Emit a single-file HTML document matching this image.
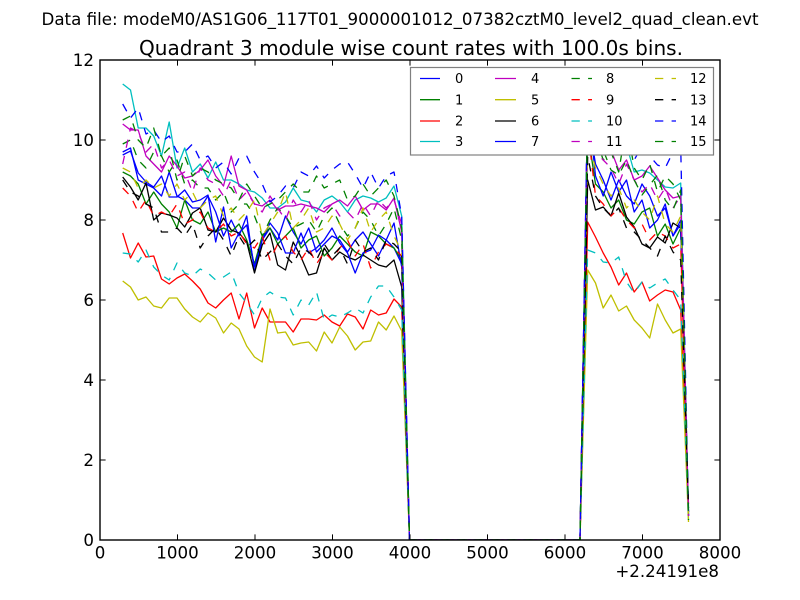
<!DOCTYPE html>
<html><head><meta charset="utf-8"><style>
html,body{margin:0;padding:0;background:#fff;}
svg{display:block;}
text{font-family:"DejaVu Sans","Liberation Sans",sans-serif;fill:#000;}
</style></head><body>
<svg width="800" height="600" viewBox="0 0 800 600" xmlns="http://www.w3.org/2000/svg">
<rect x="0" y="0" width="800" height="600" fill="#fff"/>
<text x="400" y="25" font-size="16.67" text-anchor="middle" textLength="717" lengthAdjust="spacingAndGlyphs">Data file: modeM0/AS1G06_117T01_9000001012_07382cztM0_level2_quad_clean.evt</text>
<text x="411" y="55" font-size="20" text-anchor="middle" textLength="544" lengthAdjust="spacingAndGlyphs">Quadrant 3 module wise count rates with 100.0s bins.</text>
<defs><clipPath id="ax"><rect x="100" y="60" width="620" height="480"/></clipPath></defs>
<g clip-path="url(#ax)" fill="none" stroke-width="1.3" stroke-linejoin="round">
<polyline stroke="#0000ff" points="122.7,152 130.5,148 138.2,180 146,184 153.7,188 161.5,196 169.2,172 177,196 184.7,200 192.5,208 200.2,208 208,196 215.7,212 223.5,236 231.2,220 239,236 246.7,216 254.5,272 262.2,240 270,228 277.7,240 285.5,216 293.2,232 301,244 308.7,228 316.5,252 324.2,244 332,236 339.7,240 347.5,252 355.2,240 363,232 370.7,244 378.5,256 386.2,240 394,248 401.7,264 409.5,540 580,540 587.7,116 595.5,164 603.2,180 611,200 618.7,180 626.5,196 634.2,204 642,184 649.7,196 657.5,216 665.2,208 673,236 680.7,220 688.5,516"/>
<polyline stroke="#008000" points="122.7,172 130.5,176 138.2,184 146,204 153.7,192 161.5,204 169.2,212 177,228 184.7,200 192.5,220 200.2,224 208,212 215.7,232 223.5,228 231.2,232 239,224 246.7,240 254.5,264 262.2,236 270,228 277.7,244 285.5,236 293.2,228 301,248 308.7,240 316.5,236 324.2,256 332,248 339.7,236 347.5,244 355.2,252 363,256 370.7,232 378.5,236 386.2,244 394,248 401.7,260 409.5,540 580,540 587.7,132 595.5,184 603.2,192 611,208 618.7,200 626.5,220 634.2,224 642,212 649.7,208 657.5,236 665.2,224 673,244 680.7,228 688.5,508"/>
<polyline stroke="#ff0000" points="122.7,233 130.5,258 138.2,243 146,257 153.7,256 161.5,279 169.2,284 177,278 184.7,274 192.5,281 200.2,289 208,303 215.7,308 223.5,300 231.2,293 239,319 246.7,293 254.5,328 262.2,308 270,322 277.7,322 285.5,322 293.2,332 301,319 308.7,319 316.5,320 324.2,315 332,322 339.7,326 347.5,314 355.2,317 363,329 370.7,310 378.5,315 386.2,313 394,299 401.7,307 409.5,540 580,540 587.7,222 595.5,237 603.2,253 611,267 618.7,285 626.5,273 634.2,292 642,282 649.7,301 657.5,295 665.2,290 673,292 680.7,310 688.5,504"/>
<polyline stroke="#00bfbf" points="122.7,84 130.5,90 138.2,128 146,128 153.7,136 161.5,156 169.2,122 177,168 184.7,148 192.5,172 200.2,164 208,178 215.7,162 223.5,180 231.2,180 239,184 246.7,190 254.5,192 262.2,198 270,208 277.7,208 285.5,202 293.2,188 301,200 308.7,202 316.5,212 324.2,200 332,196 339.7,202 347.5,212 355.2,200 363,196 370.7,198 378.5,202 386.2,198 394,186 401.7,216 409.5,540 580,540 587.7,102 595.5,123 603.2,125 611,130 618.7,147 626.5,145 634.2,172 642,170 649.7,173 657.5,180 665.2,187 673,188 680.7,183 688.5,520"/>
<polyline stroke="#bf00bf" points="122.7,124 130.5,130 138.2,130 146,156 153.7,164 161.5,172 169.2,156 177,166 184.7,178 192.5,176 200.2,170 208,160 215.7,176 223.5,186 231.2,156 239,186 246.7,190 254.5,204 262.2,206 270,200 277.7,210 285.5,206 293.2,206 301,204 308.7,206 316.5,208 324.2,212 332,204 339.7,200 347.5,206 355.2,196 363,210 370.7,204 378.5,204 386.2,210 394,198 401.7,232 409.5,540 580,540 587.7,110 595.5,130 603.2,155 611,150 618.7,170 626.5,160 634.2,180 642,176 649.7,166 657.5,178 665.2,190 673,198 680.7,196 688.5,516"/>
<polyline stroke="#bfbf00" points="122.7,281 130.5,287 138.2,300 146,297 153.7,306 161.5,308 169.2,298 177,298 184.7,309 192.5,317 200.2,322 208,313 215.7,318 223.5,333 231.2,323 239,329 246.7,346 254.5,357 262.2,362 270,309 277.7,333 285.5,332 293.2,345 301,343 308.7,342 316.5,351 324.2,332 332,343 339.7,327 347.5,336 355.2,350 363,342 370.7,341 378.5,322 386.2,330 394,316 401.7,331 409.5,540 580,540 587.7,270 595.5,283 603.2,308 611,295 618.7,311 626.5,306 634.2,320 642,328 649.7,338 657.5,304 665.2,320 673,333 680.7,329 688.5,522"/>
<polyline stroke="#000000" points="122.7,177 130.5,187 138.2,200 146,183 153.7,220 161.5,213 169.2,215 177,218 184.7,227 192.5,213 200.2,208 208,230 215.7,232 223.5,218 231.2,230 239,233 246.7,242 254.5,273 262.2,245 270,233 277.7,265 285.5,270 293.2,242 301,257 308.7,275 316.5,273 324.2,248 332,260 339.7,252 347.5,257 355.2,260 363,255 370.7,260 378.5,265 386.2,267 394,260 401.7,287 409.5,540 580,540 587.7,180 595.5,210 603.2,207 611,216 618.7,193 626.5,217 634.2,227 642,244 649.7,248 657.5,237 665.2,243 673,223 680.7,228 688.5,512"/>
<polyline stroke="#0000ff" points="122.7,155 130.5,151 138.2,173 146,182 153.7,187 161.5,176 169.2,197 177,197 184.7,190 192.5,202 200.2,200 208,195 215.7,242 223.5,207 231.2,248 239,233 246.7,225 254.5,267 262.2,240 270,223 277.7,233 285.5,253 293.2,253 301,233 308.7,253 316.5,248 324.2,240 332,228 339.7,243 347.5,253 355.2,273 363,253 370.7,250 378.5,235 386.2,240 394,223 401.7,267 409.5,540 580,540 587.7,100 595.5,176 603.2,196 611,172 618.7,192 626.5,180 634.2,212 642,200 649.7,228 657.5,220 665.2,204 673,236 680.7,224 688.5,512"/>
<g stroke-dasharray="8.3,8.3">
<polyline stroke="#008000" points="122.7,144 130.5,140 138.2,160 146,168 153.7,152 161.5,156 169.2,172 177,160 184.7,184 192.5,180 200.2,188 208,188 215.7,200 223.5,192 231.2,212 239,204 246.7,204 254.5,216 262.2,236 270,220 277.7,208 285.5,216 293.2,228 301,224 308.7,220 316.5,232 324.2,216 332,208 339.7,224 347.5,236 355.2,228 363,212 370.7,220 378.5,236 386.2,224 394,208 401.7,240 409.5,540 580,540 587.7,108 595.5,136 603.2,160 611,152 618.7,172 626.5,124 634.2,168 642,180 649.7,164 657.5,192 665.2,176 673,184 680.7,200 688.5,516"/>
<polyline stroke="#ff0000" points="122.7,188 130.5,196 138.2,212 146,200 153.7,216 161.5,212 169.2,216 177,204 184.7,224 192.5,220 200.2,212 208,228 215.7,232 223.5,224 231.2,236 239,232 246.7,244 254.5,248 262.2,236 270,260 277.7,244 285.5,236 293.2,252 301,260 308.7,248 316.5,264 324.2,252 332,260 339.7,248 347.5,240 355.2,256 363,244 370.7,268 378.5,252 386.2,244 394,248 401.7,256 409.5,540 580,540 587.7,128 595.5,196 603.2,204 611,216 618.7,208 626.5,220 634.2,228 642,224 649.7,240 657.5,232 665.2,236 673,248 680.7,244 688.5,512"/>
<polyline stroke="#00bfbf" points="122.7,253 130.5,254 138.2,262 146,250 153.7,267 161.5,275 169.2,280 177,263 184.7,273 192.5,276 200.2,269 208,273 215.7,280 223.5,277 231.2,272 239,293 246.7,303 254.5,315 262.2,298 270,292 277.7,297 285.5,298 293.2,315 301,300 308.7,305 316.5,292 324.2,320 332,315 339.7,317 347.5,313 355.2,308 363,313 370.7,297 378.5,286 386.2,286 394,297 401.7,310 409.5,540 580,540 587.7,250 595.5,253 603.2,262 611,263 618.7,257 626.5,282 634.2,293 642,282 649.7,288 657.5,283 665.2,279 673,290 680.7,300 688.5,520"/>
<polyline stroke="#bf00bf" points="122.7,164 130.5,128 138.2,132 146,152 153.7,144 161.5,168 169.2,160 177,176 184.7,172 192.5,192 200.2,168 208,180 215.7,184 223.5,196 231.2,180 239,200 246.7,192 254.5,204 262.2,212 270,196 277.7,208 285.5,220 293.2,200 301,212 308.7,200 316.5,220 324.2,208 332,204 339.7,216 347.5,212 355.2,220 363,204 370.7,216 378.5,200 386.2,208 394,200 401.7,224 409.5,540 580,540 587.7,92 595.5,152 603.2,160 611,168 618.7,184 626.5,164 634.2,180 642,192 649.7,184 657.5,200 665.2,188 673,208 680.7,196 688.5,516"/>
<polyline stroke="#bfbf00" points="122.7,168 130.5,172 138.2,188 146,180 153.7,188 161.5,184 169.2,196 177,184 184.7,200 192.5,192 200.2,208 208,200 215.7,196 223.5,216 231.2,208 239,220 246.7,212 254.5,200 262.2,236 270,224 277.7,212 285.5,192 293.2,228 301,220 308.7,208 316.5,232 324.2,228 332,216 339.7,224 347.5,240 355.2,228 363,208 370.7,232 378.5,220 386.2,212 394,236 401.7,252 409.5,540 580,540 587.7,140 595.5,168 603.2,184 611,196 618.7,188 626.5,208 634.2,200 642,212 649.7,220 657.5,196 665.2,224 673,232 680.7,216 688.5,520"/>
<polyline stroke="#000000" points="122.7,180 130.5,192 138.2,196 146,204 153.7,208 161.5,232 169.2,232 177,228 184.7,236 192.5,224 200.2,248 208,236 215.7,228 223.5,240 231.2,256 239,236 246.7,248 254.5,240 262.2,260 270,252 277.7,244 285.5,256 293.2,264 301,248 308.7,252 316.5,260 324.2,244 332,256 339.7,248 347.5,264 355.2,240 363,252 370.7,248 378.5,260 386.2,240 394,244 401.7,252 409.5,540 580,540 587.7,156 595.5,196 603.2,208 611,216 618.7,208 626.5,228 634.2,232 642,240 649.7,248 657.5,256 665.2,236 673,252 680.7,260 688.5,508"/>
<polyline stroke="#0000ff" points="122.7,104 130.5,118 138.2,108 146,134 153.7,130 161.5,142 169.2,136 177,152 184.7,152 192.5,144 200.2,160 208,156 215.7,168 223.5,162 231.2,174 239,158 246.7,156 254.5,172 262.2,184 270,202 277.7,196 285.5,186 293.2,188 301,172 308.7,176 316.5,166 324.2,178 332,170 339.7,164 347.5,162 355.2,174 363,188 370.7,172 378.5,188 386.2,176 394,172 401.7,216 409.5,540 580,540 587.7,96 595.5,130 603.2,140 611,146 618.7,142 626.5,150 634.2,160 642,146 649.7,156 657.5,165 665.2,168 673,152 680.7,146 688.5,516"/>
<polyline stroke="#008000" points="122.7,120 130.5,116 138.2,140 146,148 153.7,128 161.5,156 169.2,148 177,180 184.7,156 192.5,176 200.2,168 208,172 215.7,180 223.5,184 231.2,188 239,200 246.7,184 254.5,196 262.2,208 270,204 277.7,200 285.5,192 293.2,184 301,192 308.7,192 316.5,176 324.2,188 332,184 339.7,180 347.5,200 355.2,196 363,184 370.7,196 378.5,188 386.2,180 394,196 401.7,228 409.5,540 580,540 587.7,110 595.5,140 603.2,150 611,170 618.7,175 626.5,160 634.2,180 642,195 649.7,185 657.5,175 665.2,200 673,210 680.7,190 688.5,520"/>
</g>
</g>
<!-- axes frame -->
<rect x="100" y="60" width="620" height="480" fill="none" stroke="#000" stroke-width="1.4"/>
<g stroke="#000" stroke-width="1">
<!-- x ticks bottom/top -->
<path d="M177.5,540V534.4M255,540V534.4M332.5,540V534.4M410,540V534.4M487.5,540V534.4M565,540V534.4M642.5,540V534.4"/>
<path d="M177.5,60V65.6M255,60V65.6M332.5,60V65.6M410,60V65.6M487.5,60V65.6M565,60V65.6M642.5,60V65.6"/>
<!-- y ticks left/right -->
<path d="M100,460H105.6M100,380H105.6M100,300H105.6M100,220H105.6M100,140H105.6"/>
<path d="M720,460H714.4M720,380H714.4M720,300H714.4M720,220H714.4M720,140H714.4"/>
</g>
<g font-size="16.67" text-anchor="middle">
<text x="100" y="558.5">0</text>
<text x="177.5" y="558.5">1000</text>
<text x="255" y="558.5">2000</text>
<text x="332.5" y="558.5">3000</text>
<text x="410" y="558.5">4000</text>
<text x="487.5" y="558.5">5000</text>
<text x="565" y="558.5">6000</text>
<text x="642.5" y="558.5">7000</text>
<text x="720" y="558.5">8000</text>
</g>
<g font-size="16.67" text-anchor="end">
<text x="94" y="546">0</text>
<text x="94" y="466">2</text>
<text x="94" y="386">4</text>
<text x="94" y="306">6</text>
<text x="94" y="226">8</text>
<text x="94" y="146">10</text>
<text x="94" y="66">12</text>
<text x="719" y="577">+2.24191e8</text>
</g>
<!-- legend -->
<rect x="410.5" y="67.5" width="303" height="87.5" fill="#fff" stroke="#808080" stroke-width="1.2"/>
<g stroke-width="1.3" fill="none">
<path stroke="#0000ff" d="M420,78.5H440"/>
<path stroke="#008000" d="M420,99.7H440"/>
<path stroke="#ff0000" d="M420,121H440"/>
<path stroke="#00bfbf" d="M420,141.5H440"/>
<path stroke="#bf00bf" d="M495,78.5H516"/>
<path stroke="#bfbf00" d="M495,99.7H516"/>
<path stroke="#000000" d="M495,121H516"/>
<path stroke="#0000ff" d="M495,141.5H516"/>
<g stroke-dasharray="8.3,8.3">
<path stroke="#008000" d="M571.5,78.5H592"/>
<path stroke="#ff0000" d="M571.5,99.7H592"/>
<path stroke="#00bfbf" d="M571.5,121H592"/>
<path stroke="#bf00bf" d="M571.5,141.5H592"/>
<path stroke="#bfbf00" d="M655,78.5H676"/>
<path stroke="#000000" d="M655,99.7H676"/>
<path stroke="#0000ff" d="M655,121H676"/>
<path stroke="#008000" d="M655,141.5H676"/>
</g>
</g>
<g font-size="13">
<text x="455" y="83.2">0</text>
<text x="455" y="104.4">1</text>
<text x="455" y="125.7">2</text>
<text x="455" y="146.2">3</text>
<text x="531" y="83.2">4</text>
<text x="531" y="104.4">5</text>
<text x="531" y="125.7">6</text>
<text x="531" y="146.2">7</text>
<text x="606" y="83.2">8</text>
<text x="606" y="104.4">9</text>
<text x="606" y="125.7">10</text>
<text x="606" y="146.2">11</text>
<text x="690" y="83.2">12</text>
<text x="690" y="104.4">13</text>
<text x="690" y="125.7">14</text>
<text x="690" y="146.2">15</text>
</g>
</svg>
</body></html>
